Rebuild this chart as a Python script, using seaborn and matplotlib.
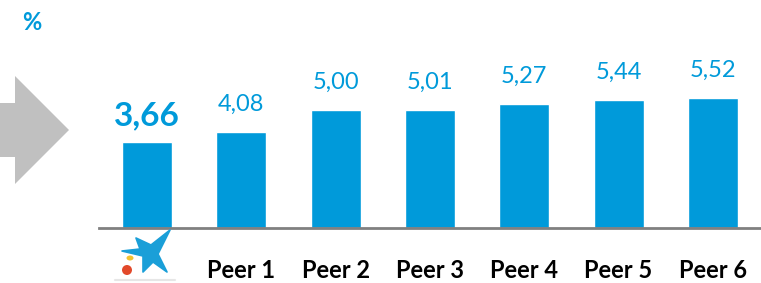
import matplotlib
matplotlib.use("Agg")
import matplotlib.pyplot as plt
import seaborn as sns
import pandas as pd
from matplotlib.patches import Polygon, Ellipse

categories = ["CaixaBank", "Peer 1", "Peer 2", "Peer 3", "Peer 4", "Peer 5", "Peer 6"]
values = [3.66, 4.08, 5.00, 5.01, 5.27, 5.44, 5.52]
tick_labels = ["", "Peer 1", "Peer 2", "Peer 3", "Peer 4", "Peer 5", "Peer 6"]
unit_label = "%"

BLUE = "#009ADA"
W, H = 761, 283

sns.set_theme(style="white")
plt.rcParams["font.family"] = ["Lato", "DejaVu Sans"]

fig = plt.figure(figsize=(W / 100, H / 100), dpi=100)
ax = fig.add_axes([99 / W, 1 - 228 / H, 1 - 99 / W, 228 / H])

df = pd.DataFrame({"cat": categories, "val": values})
sns.barplot(data=df, x="cat", y="val", color=BLUE, width=0.53, saturation=1,
            ax=ax, zorder=2)
ax.set_xlim(-0.51, 6.51)
ax.set_ylim(0, 228 / 23.6)

for i, v in enumerate(values):
    txt = f"{v:.2f}".replace(".", ",")
    if i == 0:
        ax.annotate(txt, (i, v), xytext=(0, 8), textcoords="offset points",
                    ha="center", va="bottom", color=BLUE, fontsize=24,
                    fontweight="bold")
    else:
        ax.annotate(txt, (i, v), xytext=(0, 12), textcoords="offset points",
                    ha="center", va="bottom", color=BLUE, fontsize=17)

ax.set_xticks(range(len(categories)))
ax.set_xticklabels(tick_labels, fontsize=17, fontweight="bold", color="black")
ax.tick_params(axis="x", length=0, pad=22)
ax.set_yticks([])
ax.set_xlabel("")
ax.set_ylabel("")
for s in ["top", "right", "left"]:
    ax.spines[s].set_visible(False)
ax.spines["bottom"].set_color("#808080")
ax.spines["bottom"].set_linewidth(2)


def P(x, y):
    return (x / W, 1 - y / H)


# grey arrow on the left
arrow = [P(0, 103), P(15, 103), P(15, 76), P(69, 130), P(15, 184), P(15, 157), P(0, 157)]
fig.patches.append(Polygon(arrow, closed=True, facecolor="#C0C0C0", edgecolor="none",
                           transform=fig.transFigure))

# unit label
fig.text(32 / W, 1 - 22 / H, unit_label, color=BLUE, fontsize=17, fontweight="bold",
         ha="center", va="center")

# simple logo (star + dots)
star = [P(136, 238), P(151, 245), P(170, 230), P(158, 254), P(167, 272),
        P(153, 262), P(143, 272), P(143, 256), P(122, 251), P(140, 249)]
fig.patches.append(Polygon(star, closed=True, facecolor="#1A9FD8", edgecolor="#1A9FD8",
                           lw=1.2, joinstyle="round", transform=fig.transFigure))
fig.patches.append(Ellipse(P(130, 258), 7 / W, 5 / H, facecolor="#F2C230",
                           edgecolor="none", transform=fig.transFigure))
fig.patches.append(Ellipse(P(127, 270), 10 / W, 10 / H, facecolor="#E2492A",
                           edgecolor="none", transform=fig.transFigure))
fig.lines.append(plt.Line2D([115 / W, 175 / W], [1 - 280 / H, 1 - 280 / H],
                            color="#E6E6E6", lw=1.5, transform=fig.transFigure))

fig.savefig("out.png", dpi=100)
